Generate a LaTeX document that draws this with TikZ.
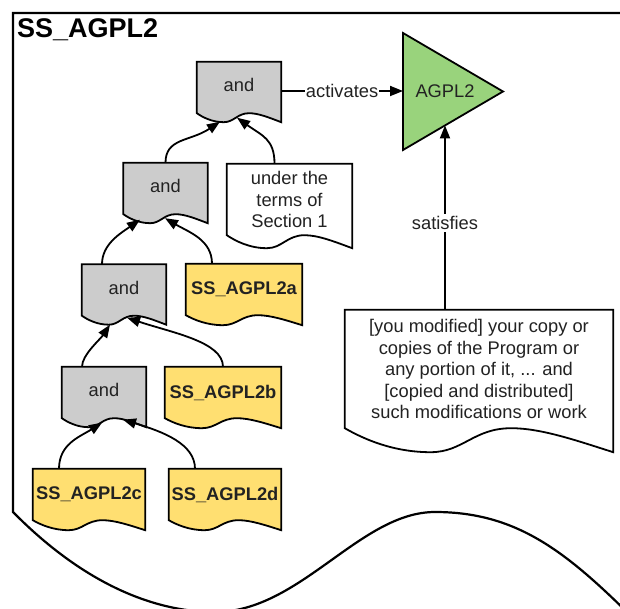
\documentclass[tikz,border=0pt]{standalone}
\usepackage{fontspec}
\setmainfont{Liberation Sans}
\usetikzlibrary{calc,arrows.meta,backgrounds}
\definecolor{ink}{HTML}{222222}
\definecolor{andgray}{HTML}{CCCCCC}
\definecolor{ssyellow}{HTML}{FFDF71}
\definecolor{licgreen}{HTML}{99D37C}
\tikzset{
  frame/.style={draw=black, line width=2.2pt},
  shape line/.style={draw=black, line width=1.8pt, line join=miter},
  box/.style={inner sep=0pt, text=ink, align=center, font=\fontsize{18.3}{21.5}\selectfont},
  andbox/.style={box, minimum width=84, minimum height=51, text depth=5pt},
  ssbox/.style={box, minimum height=51, font=\bfseries\fontsize{18.3}{21.5}\selectfont},
  link/.style={draw=black, line width=1.8pt, -{Triangle[length=13pt,width=10pt]}},
  tag/.style={box, fill=white, inner xsep=1pt, inner ysep=2pt},
  title/.style={inner sep=0pt, text=black, font=\bfseries\fontsize{27}{31}\selectfont},
}

\begin{document}
\begin{tikzpicture}[x=1pt, y=-1pt]
  \useasboundingbox (0,0) rectangle (620,609);

  % title of the outer frame
  \node[title, anchor=base west] (title) at (17,38) {SS\_AGPL2};

  % and-gates and sub-conditions
  \node[andbox] (and1) at (239,87.5) {and};
  \node[andbox] (and2) at (165.5,188.5) {and};
  \node[box, minimum width=125, minimum height=71] (under) at (289.5,199.5) {under the\\terms of\\Section 1};
  \node[andbox] (and3) at (124,290) {and};
  \node[ssbox, minimum width=116] (ssa) at (244,289.5) {SS\_AGPL2a};
  \node[andbox] (and4) at (104,392.5) {and};
  \node[ssbox, minimum width=116] (ssb) at (223,392.5) {SS\_AGPL2b};
  \node[ssbox, minimum width=112] (ssc) at (89,494.5) {SS\_AGPL2c};
  \node[ssbox, minimum width=112] (ssd) at (225,494.5) {SS\_AGPL2d};
  \node[box, minimum width=268, minimum height=118] (mod) at (479,369)
    {[you modified] your copy or\\copies of the Program or\\any portion of it, ... and\\[0pt][copied and distributed]\\such modifications or work};

  % licence triangle
  \coordinate (trA) at (403,33);
  \coordinate (trB) at (503,91.5);
  \coordinate (trC) at (403,150);
  \node[box] (agpl) at (445,91) {AGPL2};
  \coordinate (sat) at ($(trC)!0.42!(trB)$);

  \begin{scope}[on background layer]
    \begin{scope}
      \clip (0,0) rectangle (620,609);
      \draw[frame] (640,13) -- (13,13) -- (13,512)
        .. controls (80,580) and (150,612) .. (215,612)
        .. controls (300,612) and (360,512) .. (435,512)
        .. controls (520,512) and (570,555) .. (640,625);
    \end{scope}
    \draw[shape line, fill=licgreen] (trA) -- (trB) -- (trC) -- cycle;
    % document shapes with a wavy bottom
    \foreach \n/\c/\d in {and1/andgray/9, and2/andgray/9, and3/andgray/9, and4/andgray/9,
        under/white/13, ssa/ssyellow/10, ssb/ssyellow/10, ssc/ssyellow/10, ssd/ssyellow/10, mod/white/24}
      \draw[shape line, fill=\c] (\n.north west) -- (\n.north east) -- ($(\n.south east)+(0,\d)$)
        .. controls ($(\n.south west)!0.86!(\n.south east)+(0,0.5*\d)$) and ($(\n.south west)!0.73!(\n.south east)$) .. ($(\n.south west)!0.62!(\n.south east)$)
        .. controls ($(\n.south west)!0.48!(\n.south east)$) and ($(\n.south west)!0.44!(\n.south east)+(0,\d)$) .. ($(\n.south west)!0.32!(\n.south east)+(0,\d)$)
        .. controls ($(\n.south west)!0.18!(\n.south east)+(0,\d)$) and ($(\n.south west)!0.07!(\n.south east)+(0,0.45*\d)$) .. (\n.south west) -- cycle;
  \end{scope}

  % connectors
  \draw[link] (and2.north) .. controls +(0,-25) and +(-30,20) .. ([shift={(-19,8.5)}]and1.south);
  \draw[link] ([xshift=-15]under.north) .. controls +(0,-25) and +(25,18) .. ([shift={(-2,4.5)}]and1.south);
  \draw[link] ([xshift=-22]and3.north) .. controls +(0,-20) and +(-20,14) .. ([shift={(-25.5,5.5)}]and2.south);
  \draw[link] ([xshift=-32]ssa.north) .. controls +(0,-24) and +(24,14) .. ([shift={(-0.5,4)}]and2.south);
  \draw[link] ([xshift=-22]and4.north) .. controls +(0,-12) and +(-10,15) .. ([shift={(-14,9)}]and3.south);
  \draw[link] (ssb.north) .. controls +(0,-25) and +(45,15) .. ([shift={(3,2)}]and3.south);
  \draw[link] ([xshift=-30]ssc.north) .. controls +(0,-25) and +(-22,14) .. ([shift={(-2,4.5)}]and4.south);
  \draw[link] ([xshift=-30]ssd.north) .. controls +(0,-25) and +(40,12) .. ([shift={(19,1.5)}]and4.south);
  \draw[link] (and1.east |- agpl) -- (agpl -| trA) node[tag, midway] {activates};
  \draw[link] (sat |- mod.north) -- (sat) node[tag, pos=0.47] {satisfies};
\end{tikzpicture}
\end{document}
